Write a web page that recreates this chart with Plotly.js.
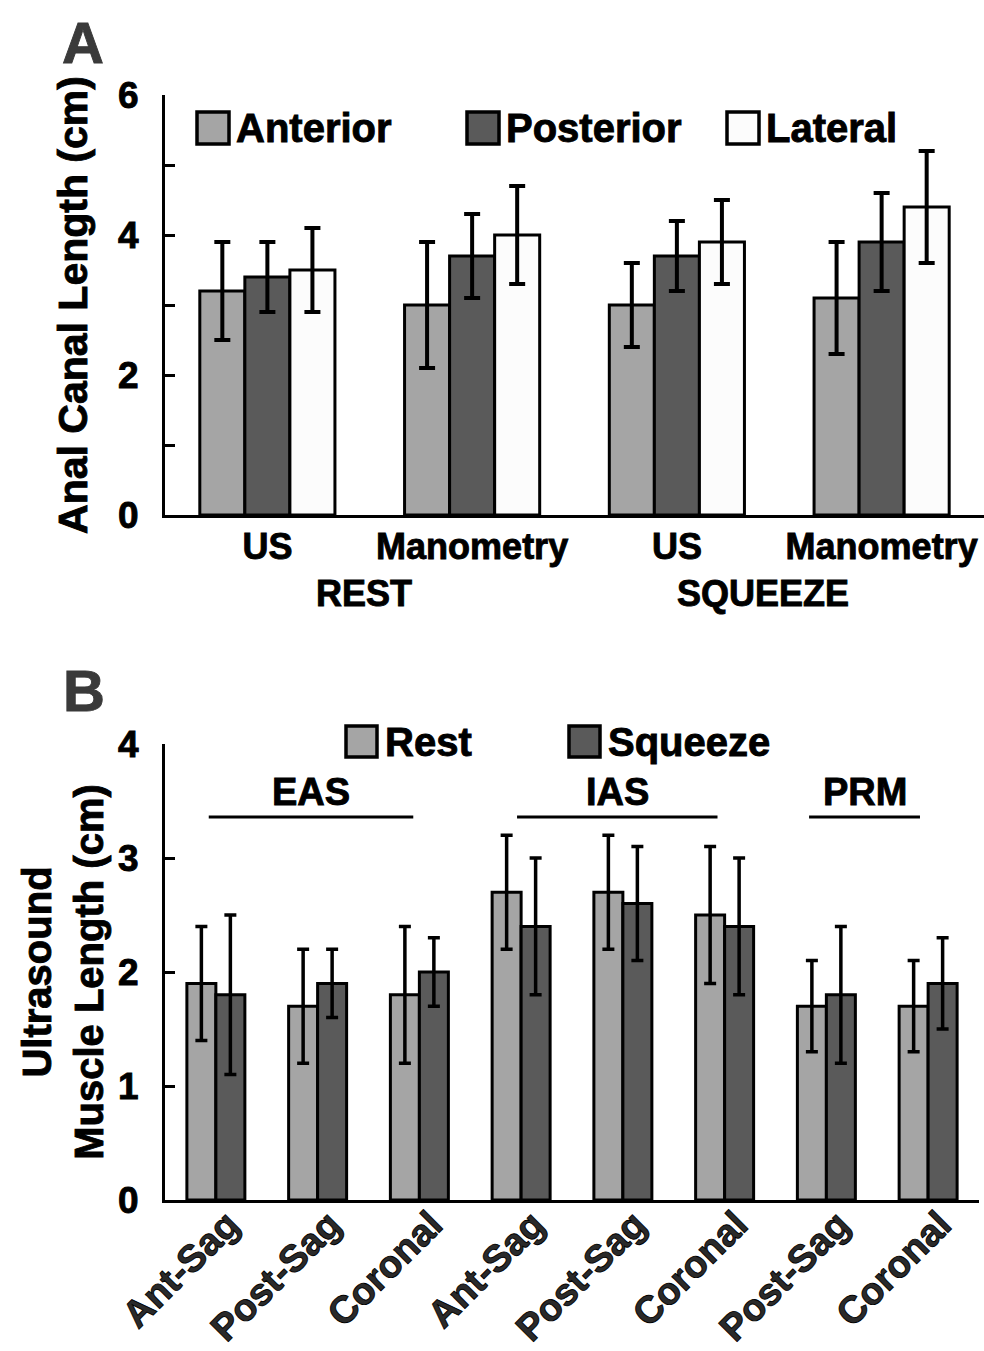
<!DOCTYPE html>
<html>
<head>
<meta charset="utf-8">
<script src="https://cdn.plot.ly/plotly-3.0.1.min.js"></script>
<style>
html,body{margin:0;padding:0;background:#fff;}
#chart{width:984px;height:1351px;}
#chart svg text{stroke:#000;stroke-width:0.9px;}
#chart .annotation[data-index="5"] text,
#chart .annotation[data-index="6"] text{stroke:#3a3a3a;}
</style>
</head>
<body>
<div id="chart"></div>
<script>
// ---------- Panel A data ----------
var groupsA = ["US", "Manometry", "US", "Manometry"];
var conditionsA = ["REST", "SQUEEZE"];
var anterior = [3.2, 3.0, 3.0, 3.1];
var anteriorErr = [0.7, 0.9, 0.6, 0.8];
var posterior = [3.4, 3.7, 3.7, 3.9];
var posteriorErr = [0.5, 0.6, 0.5, 0.7];
var lateral = [3.5, 4.0, 3.9, 4.4];
var lateralErr = [0.6, 0.7, 0.6, 0.8];
var seriesA = ["Anterior", "Posterior", "Lateral"];
var yTicksA = [0, 1, 2, 3, 4, 5, 6];
var yTickTextA = ["0", "", "2", "", "4", "", "6"];

// ---------- Panel B data ----------
var viewsB = ["Ant-Sag", "Post-Sag", "Coronal", "Ant-Sag", "Post-Sag", "Coronal", "Post-Sag", "Coronal"];
var musclesB = ["EAS", "IAS", "PRM"];
var rest = [1.9, 1.7, 1.8, 2.7, 2.7, 2.5, 1.7, 1.7];
var restErr = [0.5, 0.5, 0.6, 0.5, 0.5, 0.6, 0.4, 0.4];
var squeeze = [1.8, 1.9, 2.0, 2.4, 2.6, 2.4, 1.8, 1.9];
var squeezeErr = [0.7, 0.3, 0.3, 0.6, 0.5, 0.6, 0.6, 0.4];
var seriesB = ["Rest", "Squeeze"];
var yTicksB = [0, 1, 2, 3, 4];

// ---------- styling ----------
var W = 984, H = 1351;
function px(x){ return x / W; }
function py(y){ return 1 - y / H; }
var FONT = "Liberation Sans, Arial, sans-serif";
var cLight = "#a5a5a5", cDark = "#5a5a5a", cWhite = "#fcfcfc";

var idxA = groupsA.map(function(_, i){ return i; });
var idxB = viewsB.map(function(_, i){ return i; });

function barTrace(name, x, y, err, color, xa, ya, width, offset, errW, errT){
  return {
    type: "bar", name: name, x: x, y: y, xaxis: xa, yaxis: ya,
    width: width, offset: offset,
    marker: {color: color, line: {color: "#000", width: 3}},
    error_y: {type: "data", array: err, visible: true, color: "#000", thickness: errT, width: errW},
    showlegend: false, hoverinfo: "y+name"
  };
}

var wA = 0.22, wB = 0.285;
var data = [
  barTrace(seriesA[0], idxA, anterior, anteriorErr, cLight, "x", "y", wA, -1.5 * wA, 8, 4),
  barTrace(seriesA[1], idxA, posterior, posteriorErr, cDark, "x", "y", wA, -0.5 * wA, 8, 4),
  barTrace(seriesA[2], idxA, lateral, lateralErr, cWhite, "x", "y", wA, 0.5 * wA, 8, 4),
  barTrace(seriesB[0], idxB, rest, restErr, cLight, "x2", "y2", wB, -wB, 6, 3.5),
  barTrace(seriesB[1], idxB, squeeze, squeezeErr, cDark, "x2", "y2", wB, 0, 6, 3.5)
];

var shapes = [];
var annotations = [];

// custom legends (large swatches)
function legendItem(x0, y0, size, color, label, tx){
  shapes.push({type: "rect", xref: "paper", yref: "paper",
    x0: px(x0), x1: px(x0 + size), y0: py(y0 + size), y1: py(y0),
    fillcolor: color, line: {color: "#000", width: 3.5}});
  annotations.push({xref: "paper", yref: "paper", x: px(tx), y: py(y0 + size / 2),
    xanchor: "left", yanchor: "middle", showarrow: false, text: "<b>" + label + "</b>",
    font: {family: FONT, size: 40, color: "#000"}});
}
legendItem(197, 112, 32, cLight, seriesA[0], 234);
legendItem(467, 112, 32, cDark, seriesA[1], 504);
legendItem(727, 112, 32, cWhite, seriesA[2], 764);
legendItem(346, 726, 31, cLight, seriesB[0], 383);
legendItem(569, 726, 31, cDark, seriesB[1], 606);

// Panel letters
annotations.push({xref: "paper", yref: "paper", x: px(83), y: py(42), showarrow: false,
  text: "<b>A</b>", font: {family: FONT, size: 58, color: "#3a3a3a"}, xanchor: "center", yanchor: "middle"});
annotations.push({xref: "paper", yref: "paper", x: px(84), y: py(690), showarrow: false,
  text: "<b>B</b>", font: {family: FONT, size: 58, color: "#3a3a3a"}, xanchor: "center", yanchor: "middle"});

// Condition labels for panel A
var condX = [0.47, 2.42];
conditionsA.forEach(function(c, i){
  annotations.push({xref: "x", yref: "paper", x: condX[i], y: py(593), showarrow: false,
    text: "<b>" + c + "</b>", font: {family: FONT, size: 36, color: "#000"},
    xanchor: "center", yanchor: "middle"});
});

// Muscle group labels for panel B with underline
var muscleSpan = [[-0.07, 1.94], [2.96, 4.93], [5.83, 6.92]];
musclesB.forEach(function(m, i){
  var s = muscleSpan[i];
  shapes.push({type: "line", xref: "x2", yref: "paper", x0: s[0], x1: s[1], y0: py(817), y1: py(817),
    line: {color: "#000", width: 3}});
  annotations.push({xref: "x2", yref: "paper", x: (s[0] + s[1]) / 2, y: py(792), showarrow: false,
    text: "<b>" + m + "</b>", font: {family: FONT, size: 38, color: "#000"},
    xanchor: "center", yanchor: "middle"});
});

var layout = {
  width: W, height: H,
  margin: {l: 0, r: 0, t: 0, b: 0},
  paper_bgcolor: "#fff", plot_bgcolor: "#fff",
  font: {family: FONT, color: "#000"},
  barmode: "group",
  showlegend: false,
  xaxis: {
    domain: [px(165), 1], anchor: "y",
    range: [-0.5, 3.5], tickvals: idxA, ticktext: groupsA.map(function(t){ return "<b>" + t + "</b>"; }),
    ticks: "", showline: true, linewidth: 3, linecolor: "#000", showgrid: false, zeroline: false,
    tickfont: {family: FONT, size: 36, color: "#000"}, ticklabelstandoff: -2
  },
  yaxis: {
    domain: [py(515), py(95)], anchor: "x",
    range: [0, 6], tickvals: yTicksA, ticktext: yTickTextA.map(function(t){ return t ? "<b>" + t + "</b>" : ""; }),
    ticks: "inside", ticklen: 10, tickwidth: 3, tickcolor: "#000",
    showline: true, linewidth: 3, linecolor: "#000", showgrid: false, zeroline: false,
    tickfont: {family: FONT, size: 37, color: "#000"}, ticklabelstandoff: 16,
    title: {text: "<b>Anal Canal Length (cm)</b>", font: {family: FONT, size: 41, color: "#000"}, standoff: 18}
  },
  xaxis2: {
    domain: [px(165), px(979)], anchor: "y2",
    range: [-0.5, 7.5], tickvals: idxB, ticktext: viewsB.map(function(t){ return "<b>" + t + "</b>"; }),
    tickangle: -45, ticks: "", showline: true, linewidth: 3, linecolor: "#000", showgrid: false, zeroline: false,
    tickfont: {family: FONT, size: 38, color: "#2a2a2a"}, ticklabelstandoff: -16, ticklabelshift: 12
  },
  yaxis2: {
    domain: [py(1200), py(744)], anchor: "x2",
    range: [0, 4], tickvals: yTicksB, ticktext: yTicksB.map(function(t){ return "<b>" + t + "</b>"; }),
    ticks: "inside", ticklen: 10, tickwidth: 3, tickcolor: "#000",
    showline: true, linewidth: 3, linecolor: "#000", showgrid: false, zeroline: false,
    tickfont: {family: FONT, size: 37, color: "#000"}, ticklabelstandoff: 16,
    title: {text: "<b>Ultrasound<br>Muscle Length (cm)</b>", font: {family: FONT, size: 40, color: "#000"}, standoff: 3}
  },
  shapes: shapes,
  annotations: annotations
};

Plotly.newPlot("chart", data, layout, {staticPlot: true, displayModeBar: false});
</script>
</body>
</html>
